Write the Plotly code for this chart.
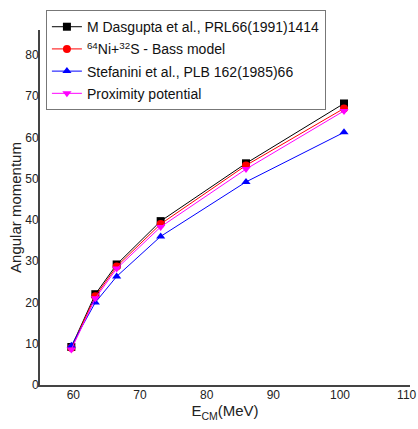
import plotly.graph_objects as go

energy = [59.7, 63.3, 66.5, 73.1, 85.9, 100.6]
dasgupta = [9.2, 22.0, 29.2, 39.7, 53.7, 68.2]
bass = [9.0, 21.5, 28.7, 39.0, 53.2, 67.0]
stefanini = [9.5, 20.0, 26.3, 36.0, 49.2, 61.2]
proximity = [8.6, 21.0, 28.2, 38.3, 52.3, 66.4]

series = [
    ("M Dasgupta et al., PRL66(1991)1414", dasgupta, "black", "square"),
    ("<sup>64</sup>Ni+<sup>32</sup>S - Bass model", bass, "red", "circle"),
    ("Stefanini et al., PLB 162(1985)66", stefanini, "blue", "triangle-up"),
    ("Proximity potential", proximity, "magenta", "triangle-down"),
]

fig = go.Figure()
for i, (name, vals, col, sym) in enumerate(series):
    fig.add_trace(go.Scatter(
        x=energy, y=vals, name=name, mode="lines+markers",
        line=dict(color=col, width=1),
        marker=dict(color=col, symbol=sym, size=8),
        legendgroup=f"g{i}",
    ))

fig.update_layout(
    width=418, height=429,
    margin=dict(l=40, r=8, t=30, b=44),
    paper_bgcolor="white", plot_bgcolor="white",
    font=dict(family="Liberation Sans, Arial", size=12, color="#222"),
    showlegend=True,
    legend=dict(
        x=0.016, y=1.056, xanchor="left", yanchor="top",
        bordercolor="#777", borderwidth=1, bgcolor="white",
        font=dict(size=14, color="#111"),
        tracegroupgap=1,
    ),
    xaxis=dict(
        range=[55, 110.5], tickvals=[60, 70, 80, 90, 100, 110],
        showline=True, linecolor="#444", linewidth=2, showgrid=False,
        zeroline=False, ticks="", mirror=False, automargin=False,
        ticklabelstandoff=-2,
        title=dict(text="E<sub>CM</sub>(MeV)", font=dict(size=15), standoff=2),
    ),
    yaxis=dict(
        range=[0, 86], tickvals=[0, 10, 20, 30, 40, 50, 60, 70, 80],
        showline=True, linecolor="#444", linewidth=2, showgrid=False,
        zeroline=False, ticks="", automargin=False,
        ticklabelstandoff=-3,
        title=dict(text="Angular momentum", font=dict(size=15), standoff=0),
    ),
)

fig.write_html(
    "out.html",
    config={"displayModeBar": False},
    post_script="document.body.style.margin='0px';document.body.style.overflow='hidden';",
)
